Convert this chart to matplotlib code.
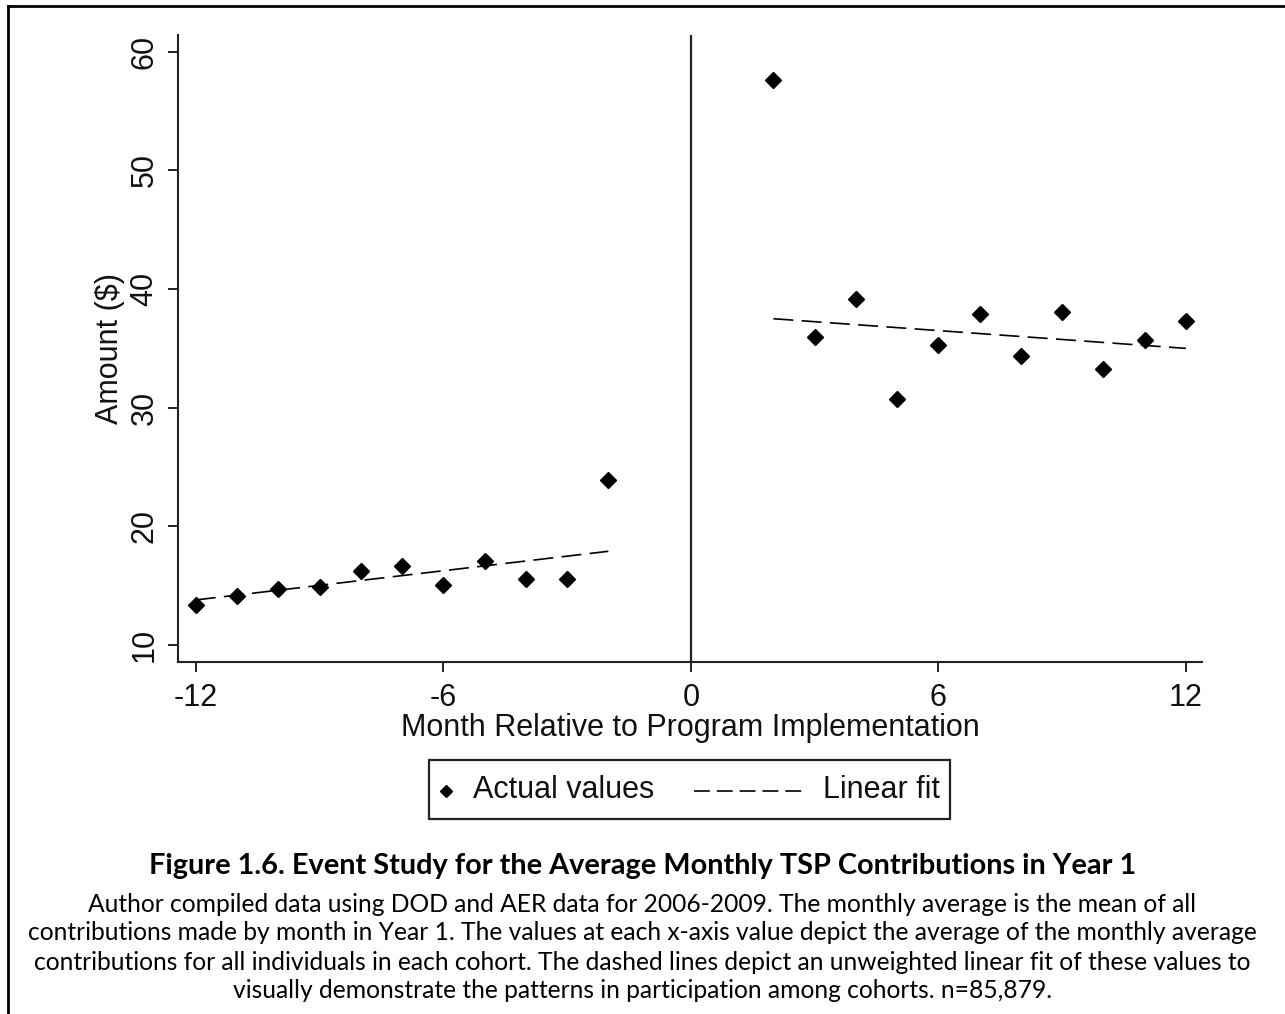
import matplotlib.pyplot as plt
from matplotlib.lines import Line2D
from matplotlib.patches import Rectangle

# monthly averages by cohort, months relative to program start
months_pre = [-12, -11, -10, -9, -8, -7, -6, -5, -4, -3, -2]
amount_pre = [13.4, 14.1, 14.7, 14.9, 16.2, 16.7, 15.1, 17.1, 15.6, 15.6, 23.9]
months_post = [2, 3, 4, 5, 6, 7, 8, 9, 10, 11, 12]
amount_post = [57.6, 36.0, 39.2, 30.7, 35.3, 37.9, 34.4, 38.1, 33.3, 35.7, 37.3]

# linear fit end points
fit_pre_x = [-12, -2]
fit_pre_y = [13.8, 17.9]
fit_post_x = [2, 12]
fit_post_y = [37.5, 35.0]

x_ticks = [-12, -6, 0, 6, 12]
y_ticks = [10, 20, 30, 40, 50, 60]

title = "Figure 1.6. Event Study for the Average Monthly TSP Contributions in Year 1"
note_lines = [
    "Author compiled data using DOD and AER data for 2006-2009. The monthly average is the mean of all",
    "contributions made by month in Year 1. The values at each x-axis value depict the average of the monthly average",
    "contributions for all individuals in each cohort. The dashed lines depict an unweighted linear fit of these values to",
    "visually demonstrate the patterns in participation among cohorts. n=85,879.",
]

W, H = 1285, 1014
plt.rcParams['font.family'] = ['Liberation Sans', 'DejaVu Sans']
fig = plt.figure(figsize=(W / 100, H / 100), dpi=100)


def fx(x):
    return x / W


def fy(y):
    return 1 - y / H


ax = fig.add_axes([fx(178), fy(662), fx(1202) - fx(178), fy(35) - fy(662)])

dash = (0, (12, 5))
ax.plot(fit_pre_x, fit_pre_y, color='black', lw=1.2, linestyle=dash)
ax.plot(fit_post_x, fit_post_y, color='black', lw=1.2, linestyle=dash)
ax.plot(months_pre, amount_pre, 'D', color='black', ms=8.5, lw=0)
ax.plot(months_post, amount_post, 'D', color='black', ms=8.5, lw=0)
ax.axvline(0, color='#222222', lw=1.6)

ax.set_xlim(-12.43, 12.39)
ax.set_ylim(8.57, 61.41)
ax.set_xticks(x_ticks)
ax.set_yticks(y_ticks)
ax.set_xticklabels([str(v) for v in x_ticks])
ax.set_yticklabels([str(v) for v in y_ticks], rotation=90, va='center')

for side in ['top', 'right']:
    ax.spines[side].set_visible(False)
for side in ['left', 'bottom']:
    ax.spines[side].set_linewidth(1.5)
    ax.spines[side].set_color('#222222')

ax.tick_params(axis='both', length=7.2, width=1.4, color='#222222',
               labelsize=22, labelcolor='#111111')
ax.tick_params(axis='x', pad=8)
ax.tick_params(axis='y', pad=6)
ax.set_xlabel("Month Relative to Program Implementation", fontsize=22,
              color='#111111', labelpad=0)
ax.set_ylabel("Amount ($)", fontsize=22, color='#111111', labelpad=3)

# legend box below the plot
fig.add_artist(Rectangle((fx(429), fy(819)), fx(950) - fx(429), fy(760) - fy(819),
                         transform=fig.transFigure, fill=False, lw=1.6,
                         edgecolor='#222222'))
fig.add_artist(Line2D([fx(446)], [fy(791)], transform=fig.transFigure,
                      marker='D', ms=6, color='black', lw=0))
fig.text(fx(473), fy(790), "Actual values", fontsize=22, va='center',
         ha='left', color='#111111')
fig.add_artist(Line2D([fx(694), fx(804)], [fy(791), fy(791)],
                      transform=fig.transFigure, color='black', lw=1.2,
                      linestyle=(0, (9.5, 4.2))))
fig.text(fx(823), fy(790), "Linear fit", fontsize=22, va='center',
         ha='left', color='#111111')

# caption
fig.text(0.5, fy(866), title, fontsize=20.8, fontweight='bold',
         family=['Lato', 'DejaVu Sans'], ha='center', va='center')
for i, line in enumerate(note_lines):
    fig.text(0.5, fy(904 + 29 * i), line, fontsize=17.7,
             family=['Lato', 'DejaVu Sans'], ha='center', va='center')

# page frame
fig.add_artist(Line2D([fx(8), fx(1285)], [fy(6), fy(6)],
                      transform=fig.transFigure, color='black', lw=2))
fig.add_artist(Line2D([fx(8), fx(8)], [fy(6), fy(1014)],
                      transform=fig.transFigure, color='black', lw=2))

fig.savefig('out.png', dpi=100)
